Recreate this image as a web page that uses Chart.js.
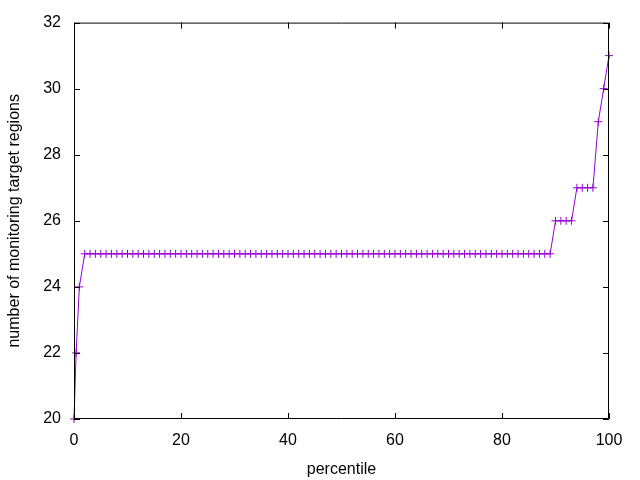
<!DOCTYPE html>
<html>
<head>
<meta charset="utf-8">
<script src="https://cdn.jsdelivr.net/npm/chart.js@4/dist/chart.umd.min.js"></script>
<style>
  html, body { margin: 0; padding: 0; background: #fff; }
  #wrap { width: 640px; height: 480px; }
</style>
</head>
<body>
<div id="wrap"><canvas id="grafica" width="640" height="480"></canvas></div>
<script>
// percentiles (x) and number of monitoring target regions (y)
const percentiles = [0, 0.4, 1,
  2, 3, 4, 5, 6, 7, 8, 9, 10, 11, 12, 13, 14, 15, 16, 17, 18, 19, 20,
  21, 22, 23, 24, 25, 26, 27, 28, 29, 30, 31, 32, 33, 34, 35, 36, 37, 38, 39, 40,
  41, 42, 43, 44, 45, 46, 47, 48, 49, 50, 51, 52, 53, 54, 55, 56, 57, 58, 59, 60,
  61, 62, 63, 64, 65, 66, 67, 68, 69, 70, 71, 72, 73, 74, 75, 76, 77, 78, 79, 80,
  81, 82, 83, 84, 85, 86, 87, 88, 89,
  90, 91, 92, 93,
  94, 95, 96, 97,
  98, 99, 100];
const regions = [20, 22, 24,
  25, 25, 25, 25, 25, 25, 25, 25, 25, 25, 25, 25, 25, 25, 25, 25, 25, 25, 25,
  25, 25, 25, 25, 25, 25, 25, 25, 25, 25, 25, 25, 25, 25, 25, 25, 25, 25, 25, 25,
  25, 25, 25, 25, 25, 25, 25, 25, 25, 25, 25, 25, 25, 25, 25, 25, 25, 25, 25, 25,
  25, 25, 25, 25, 25, 25, 25, 25, 25, 25, 25, 25, 25, 25, 25, 25, 25, 25, 25, 25,
  25, 25, 25, 25, 25, 25, 25, 25, 25,
  26, 26, 26, 26,
  27, 27, 27, 27,
  29, 30, 31];
const xTicks = [0, 20, 40, 60, 80, 100];
const yTicks = [20, 22, 24, 26, 28, 30, 32];

const puntos = percentiles.map((p, i) => ({ x: p, y: regions[i] }));

// borde y marcas hacia dentro, estilo gnuplot
const marco = {
  id: 'marco',
  afterDraw(chart) {
    const { ctx, chartArea: a, scales } = chart;
    ctx.save();
    ctx.strokeStyle = '#000';
    ctx.lineWidth = 1;
    ctx.beginPath();
    ctx.rect(a.left + 0.5, a.top + 0.5, a.right - a.left - 1, a.bottom - a.top - 1);
    xTicks.forEach(v => {
      const px = Math.round(scales.x.getPixelForValue(v)) + 0.5;
      ctx.moveTo(px, a.bottom); ctx.lineTo(px, a.bottom - 6);
      ctx.moveTo(px, a.top); ctx.lineTo(px, a.top + 6);
    });
    yTicks.forEach(v => {
      const py = Math.round(scales.y.getPixelForValue(v)) + 0.5;
      ctx.moveTo(a.left, py); ctx.lineTo(a.left + 6, py);
      ctx.moveTo(a.right, py); ctx.lineTo(a.right - 6, py);
    });
    ctx.stroke();
    ctx.restore();
  }
};

Chart.defaults.font.family = '"Liberation Sans", Arial, sans-serif';
Chart.defaults.font.size = 16;
Chart.defaults.color = '#000';

new Chart(document.getElementById('grafica'), {
  type: 'line',
  data: {
    datasets: [{
      data: puntos,
      borderColor: '#9400d3',
      backgroundColor: '#9400d3',
      borderWidth: 1,
      pointStyle: 'cross',
      pointRadius: 4,
      pointBorderWidth: 1,
      pointHoverRadius: 4,
      tension: 0,
      clip: false
    }]
  },
  options: {
    responsive: false,
    animation: false,
    events: [],
    layout: { padding: { top: 19, right: 31, left: 0, bottom: 0 } },
    plugins: { legend: { display: false }, tooltip: { enabled: false } },
    scales: {
      x: {
        type: 'linear',
        min: 0, max: 100,
        afterBuildTicks: s => { s.ticks = xTicks.map(v => ({ value: v })); },
        afterFit: s => { s.height = 61; },
        grid: { display: false, drawTicks: false },
        border: { display: false },
        ticks: { padding: 12, maxRotation: 0 },
        title: { display: true, text: 'percentile', padding: { top: 9, bottom: 1 } }
      },
      y: {
        type: 'linear',
        min: 20, max: 32,
        afterBuildTicks: s => { s.ticks = yTicks.map(v => ({ value: v })); },
        afterFit: s => { s.width = 74; },
        grid: { display: false, drawTicks: false },
        border: { display: false },
        ticks: { padding: 13 },
        title: { display: true, text: 'number of monitoring target regions', padding: { top: 5, bottom: 0 } }
      }
    }
  },
  plugins: [marco]
});
</script>
</body>
</html>
